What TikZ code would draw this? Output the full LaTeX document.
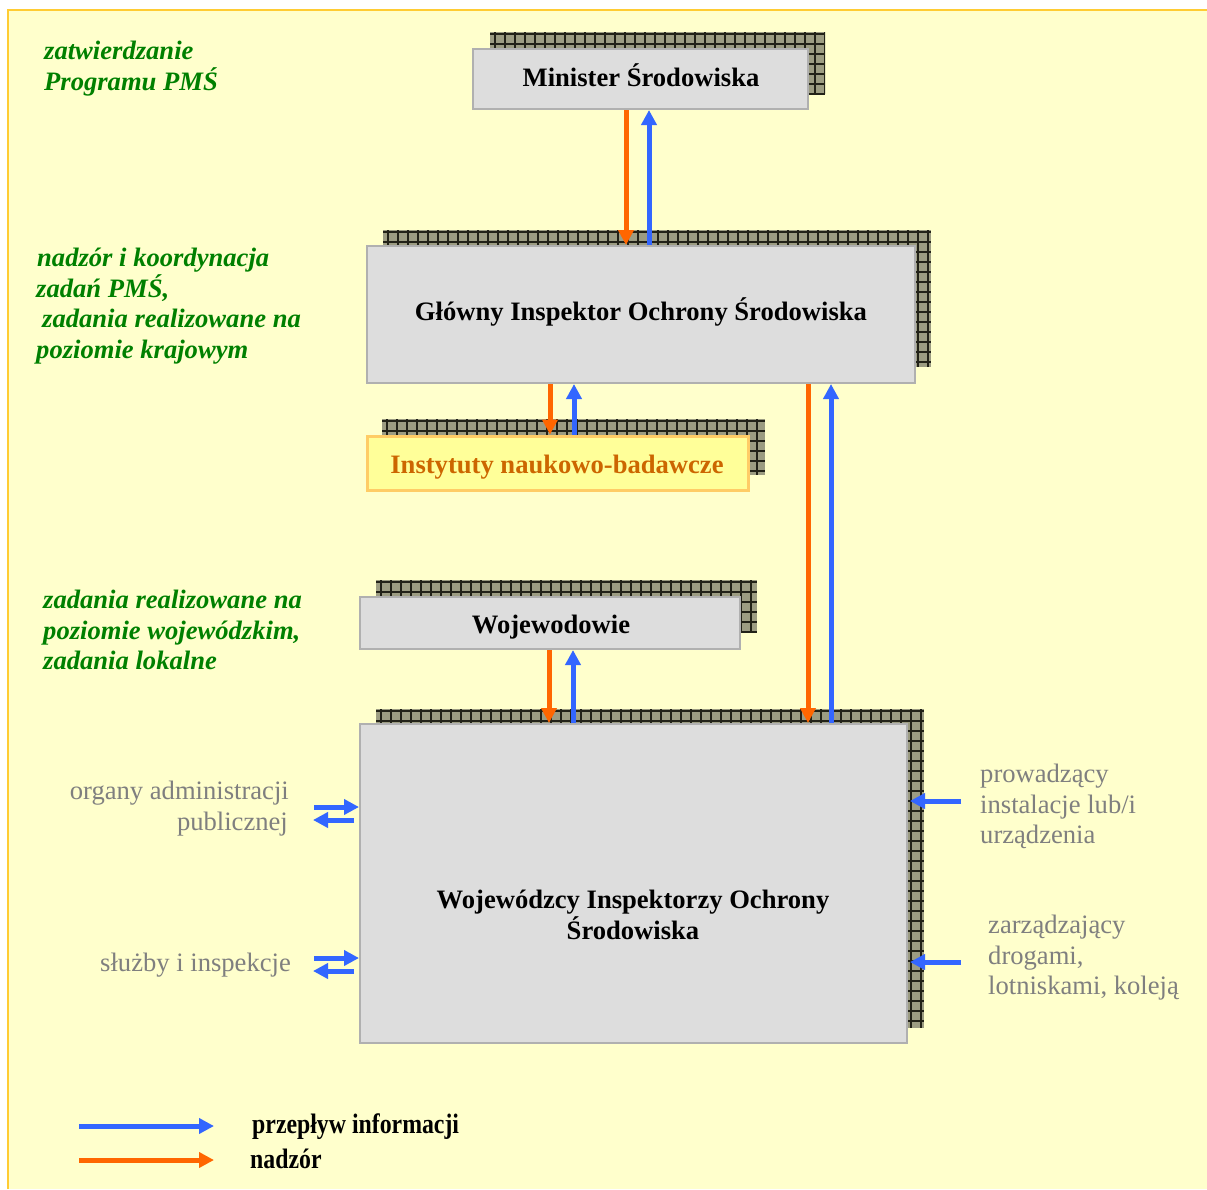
\documentclass[tikz,border=0pt]{standalone}
\usepackage{fontspec}
\setmainfont{Liberation Serif}
\usetikzlibrary{arrows.meta}
\definecolor{bg}{HTML}{FFFFCC}
\definecolor{bgline}{HTML}{FFCC33}
\definecolor{boxfill}{HTML}{DDDDDD}
\definecolor{boxline}{HTML}{B0B0B0}
\definecolor{shadowc}{HTML}{9C9C82}
\definecolor{gridc}{HTML}{222218}
\definecolor{infoblue}{HTML}{3366FF}
\definecolor{supor}{HTML}{FF6600}
\definecolor{labgreen}{HTML}{008000}
\definecolor{greytext}{HTML}{7F7F7F}
\definecolor{instfill}{HTML}{FFFF99}
\definecolor{instline}{HTML}{FFCC66}
\definecolor{insttext}{HTML}{CC6600}
\newcommand{\shadowrect}[4]{%
  \fill[shadowc] (#1,#2) rectangle (#3,#4);
  \begin{scope}
    \clip (#1,#2) rectangle (#3,#4);
    \pgfmathtruncatemacro{\xa}{#1+5}\pgfmathtruncatemacro{\xb}{#1+15}
    \pgfmathtruncatemacro{\ya}{#2+2}\pgfmathtruncatemacro{\yb}{#2+12}
    \foreach \gx in {\xa,\xb,...,#3} {
      \draw[gridc, line width=1.2pt] (\gx,#2) -- (\gx,#4);
    }
    \foreach \gy in {\ya,\yb,...,#4} {
      \draw[gridc, line width=1.2pt] (#1,\gy) -- (#3,\gy);
    }
  \end{scope}
}
\tikzset{
  mainbox/.style={draw=boxline, fill=boxfill, line width=2pt, inner sep=0pt},
  instbox/.style={draw=instline, fill=instfill, line width=3pt, inner sep=0pt},
  boxtext/.style={inner sep=0pt, anchor=base, font=\fontsize{26.6}{30}\selectfont\bfseries},
  arr/.style={line width=5pt, -{Triangle[width=15pt,length=15pt]}},
  infoarr/.style={arr, infoblue},
  suparr/.style={arr, supor},
  glab/.style={inner sep=0pt, anchor=base west, text=labgreen,
    font=\fontsize{26.6}{31}\selectfont\bfseries\itshape},
  graylab/.style={inner sep=0pt, text=greytext,
    font=\fontsize{26.6}{31}\selectfont},
  leglab/.style={inner sep=0pt, anchor=base west,
    font=\fontsize{23.8}{28}\selectfont\bfseries},
}
\begin{document}
\begin{tikzpicture}[x=1pt, y=-1pt]
\useasboundingbox (0,0) rectangle (1207,1189);
% background
\fill[bg] (8,10) rectangle (1207,1189);
\draw[bgline, line width=2pt] (8,1189) -- (8,10) -- (1207,10);

% shadows
\shadowrect{490}{32}{825}{94}
\shadowrect{383}{230}{931}{367}
\shadowrect{382}{419}{765}{475}
\shadowrect{376}{580}{757}{633}
\shadowrect{376}{709}{924}{1028}

% boxes
\node[mainbox, minimum width=335pt, minimum height=60pt] (min) at (640.5,79) {};
\node[mainbox, minimum width=548pt, minimum height=137pt] (gios) at (641,314.5) {};
\node[instbox, minimum width=381pt, minimum height=54pt] (inst) at (557.5,463) {};
\node[mainbox, minimum width=380pt, minimum height=52pt] (woj) at (550,623) {};
\node[mainbox, minimum width=547pt, minimum height=319pt] (wios) at (633.5,883.5) {};

% box texts
\node[boxtext] (mint) at (641,86) {Minister Środowiska};
\node[boxtext] (giost) at (641,320) {Główny Inspektor Ochrony Środowiska};
\node[boxtext, text=insttext] (instt) at (557,473) {Instytuty naukowo-badawcze};
\node[boxtext] (wojt) at (551,633) {Wojewodowie};
\node[boxtext] (wiost1) at (633,908) {Wojewódzcy Inspektorzy Ochrony};
\node[boxtext] (wiost2) at (633,939) {Środowiska};

% x positions
\coordinate (xa) at (626,0);
\coordinate (xb) at (649,0);
\coordinate (xc) at (550,0);
\coordinate (xd) at (574,0);
\coordinate (xe) at (808,0);
\coordinate (xf) at (831,0);
\coordinate (xg) at (549,0);
\coordinate (xh) at (573,0);

% vertical arrows
\draw[suparr] (min.south -| xa) -- (gios.north -| xa);
\draw[infoarr] (gios.north -| xb) -- (min.south -| xb);
\draw[suparr] (gios.south -| xc) -- (inst.north -| xc);
\draw[infoarr] (inst.north -| xd) -- (gios.south -| xd);
\draw[suparr] (gios.south -| xe) -- (wios.north -| xe);
\draw[infoarr] (wios.north -| xf) -- (gios.south -| xf);
\draw[suparr] (woj.south -| xg) -- (wios.north -| xg);
\draw[infoarr] (wios.north -| xh) -- (woj.south -| xh);

% side arrows
\coordinate (oa1) at (314,807);
\coordinate (oa2) at (354,820);
\coordinate (oa2e) at (313,820);
\draw[infoarr] (oa1) -- (oa1 -| wios.west);
\draw[infoarr] (oa2) -- (oa2e);
\coordinate (sl1) at (314,958);
\coordinate (sl2) at (354,971);
\coordinate (sl2e) at (313,971);
\draw[infoarr] (sl1) -- (sl1 -| wios.west);
\draw[infoarr] (sl2) -- (sl2e);
\coordinate (pr1) at (961,801);
\coordinate (pr1e) at (910,801);
\draw[infoarr] (pr1) -- (pr1e);
\coordinate (za1) at (961,962);
\coordinate (za1e) at (910,962);
\draw[infoarr] (za1) -- (za1e);

% green labels
\node[glab] (g1) at (44,59) {zatwierdzanie};
\node[glab] (g2) at (44,90) {Programu PMŚ};
\node[glab] (g3) at (37,266) {nadzór i koordynacja};
\node[glab] (g4) at (36,297) {zadań PMŚ,};
\node[glab] (g5) at (42,327) {zadania realizowane na};
\node[glab] (g6) at (36,358) {poziomie krajowym};
\node[glab] (g7) at (43,608) {zadania realizowane na};
\node[glab] (g8) at (43,639) {poziomie wojewódzkim,};
\node[glab] (g9) at (43,669) {zadania lokalne};

% grey labels
\node[graylab, anchor=base east] (o1) at (289,799) {organy administracji};
\node[graylab, anchor=base east] (o2) at (288,830) {publicznej};
\node[graylab, anchor=base east] (s1) at (291,971) {służby i inspekcje};
\node[graylab, anchor=base west] (p1) at (980,782) {prowadzący};
\node[graylab, anchor=base west] (p2) at (980,813) {instalacje lub/i};
\node[graylab, anchor=base west] (p3) at (980,843) {urządzenia};
\node[graylab, anchor=base west] (z1) at (988,933) {zarządzający};
\node[graylab, anchor=base west] (z2) at (988,964) {drogami,};
\node[graylab, anchor=base west] (z3) at (988,994) {lotniskami, koleją};

% legend
\coordinate (l1s) at (79,1126);
\coordinate (l1e) at (214,1126);
\coordinate (l2s) at (79,1160);
\coordinate (l2e) at (214,1160);
\draw[infoarr] (l1s) -- (l1e);
\draw[suparr] (l2s) -- (l2e);
\node[leglab] (t1) at (252,1133) {\scalebox{1}[1.18]{przepływ informacji}};
\node[leglab] (t2) at (250,1168) {\scalebox{1}[1.18]{nadzór}};
\end{tikzpicture}
\end{document}
